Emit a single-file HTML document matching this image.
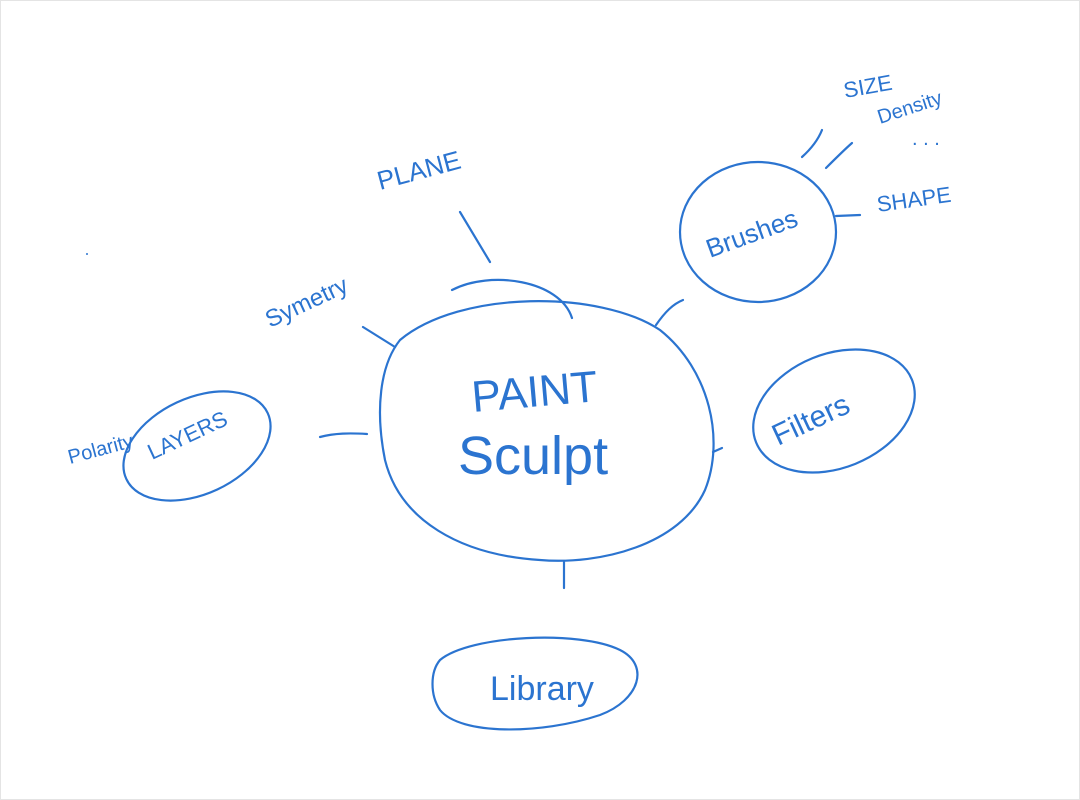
<!DOCTYPE html>
<html><head><meta charset="utf-8"><style>
html,body{margin:0;padding:0;background:#fff;width:1080px;height:800px;overflow:hidden}
svg{display:block}
text{font-family:"Liberation Sans",sans-serif;fill:#2b74d0}
</style></head><body>
<svg width="1080" height="800" viewBox="0 0 1080 800">
<rect x="0.5" y="0.5" width="1079" height="799" fill="#fff" stroke="#e4e4e4"/>
<g fill="none" stroke="#2b74d0" stroke-width="2.2" stroke-linecap="round">
<path d="M400,340 C460,290 600,290 660,330 C710,370 725,440 705,490 C680,545 600,565 540,560 C460,555 400,520 385,460 C375,410 380,365 400,340 Z"/>
<path d="M452,290 C490,270 560,280 572,318"/>
<ellipse cx="758" cy="232" rx="78" ry="70"/>
<ellipse cx="834" cy="411" rx="84" ry="57" transform="rotate(-22 834 411)"/>
<ellipse cx="197" cy="446" rx="78" ry="48" transform="rotate(-25 197 446)"/>
<path d="M440,660 C470,635 580,630 620,650 C650,665 640,700 600,715 C540,735 460,735 440,710 C430,695 430,672 440,660 Z"/>
<path d="M460,212 L490,262"/>
<path d="M363,327 L395,347"/>
<path d="M320,437 C335,433 350,433 367,434"/>
<path d="M656,325 C665,312 673,304 683,300"/>
<path d="M713,452 L722,448"/>
<path d="M564,562 L564,588"/>
<path d="M802,157 C812,148 818,140 822,130"/>
<path d="M826,168 C836,158 844,150 852,143"/>
<path d="M836,216 L860,215"/>
</g>
<text x="473" y="412" font-size="44" transform="rotate(-5 473 412)">PAINT</text>
<text x="458" y="474" font-size="54">Sculpt</text>
<text x="380" y="190" font-size="26" transform="rotate(-15 380 190)">PLANE</text>
<text x="270" y="328" font-size="24" transform="rotate(-25 270 328)">Symetry</text>
<text x="70" y="464" font-size="20" transform="rotate(-15 70 464)">Polarity</text>
<text x="152" y="460" font-size="22" transform="rotate(-25 152 460)">LAYERS</text>
<text x="710" y="258" font-size="26" transform="rotate(-20 710 258)">Brushes</text>
<text x="845" y="98" font-size="22" transform="rotate(-10 845 98)">SIZE</text>
<text x="880" y="124" font-size="20" transform="rotate(-18 880 124)">Density</text>
<text x="912" y="145" font-size="20">. . .</text>
<text x="878" y="212" font-size="22" transform="rotate(-8 878 212)">SHAPE</text>
<text x="778" y="446" font-size="30" transform="rotate(-25 778 446)">Filters</text>
<text x="490" y="700" font-size="34">Library</text>
<circle cx="87" cy="254" r="1" fill="#2b74d0"/>
</g>
</svg>
</body></html>
